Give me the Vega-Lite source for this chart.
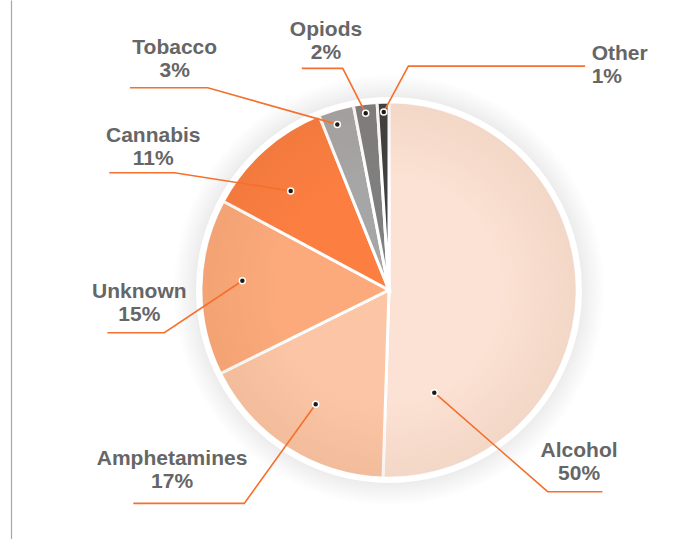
{
  "$schema": "https://vega.github.io/schema/vega-lite/v6.json",
  "width": 667,
  "height": 539,
  "autosize": "none",
  "padding": {"left": 11, "top": 0, "right": 0, "bottom": 0},
  "background": "white",
  "config": {"view": {"stroke": null}},
  "datasets": {
    "slices": [
      {"name": "Alcohol", "value": 50, "order": 1},
      {"name": "Amphetamines", "value": 17, "order": 2},
      {"name": "Unknown", "value": 15, "order": 3},
      {"name": "Cannabis", "value": 11, "order": 4},
      {"name": "Tobacco", "value": 3, "order": 5},
      {"name": "Opiods", "value": 2, "order": 6},
      {"name": "Other", "value": 1, "order": 7}
    ],
    "leaders": [
      {"name": "Alcohol", "step": 0, "x": 0.241, "y": -0.546},
      {"name": "Alcohol", "step": 1, "x": 0.844, "y": -1.073},
      {"name": "Alcohol", "step": 2, "x": 1.135, "y": -1.073},
      {"name": "Amphetamines", "step": 0, "x": -0.39, "y": -0.608},
      {"name": "Amphetamines", "step": 1, "x": -0.77, "y": -1.135},
      {"name": "Amphetamines", "step": 2, "x": -1.36, "y": -1.135},
      {"name": "Unknown", "step": 0, "x": -0.78, "y": 0.049},
      {"name": "Unknown", "step": 1, "x": -1.195, "y": -0.227},
      {"name": "Unknown", "step": 2, "x": -1.498, "y": -0.227},
      {"name": "Cannabis", "step": 0, "x": -0.523, "y": 0.527},
      {"name": "Cannabis", "step": 1, "x": -1.142, "y": 0.624},
      {"name": "Cannabis", "step": 2, "x": -1.488, "y": 0.624},
      {"name": "Tobacco", "step": 0, "x": -0.275, "y": 0.881},
      {"name": "Tobacco", "step": 1, "x": -0.964, "y": 1.076},
      {"name": "Tobacco", "step": 2, "x": -1.378, "y": 1.076},
      {"name": "Opiods", "step": 0, "x": -0.124, "y": 0.94},
      {"name": "Opiods", "step": 1, "x": -0.246, "y": 1.179},
      {"name": "Opiods", "step": 2, "x": -0.464, "y": 1.179},
      {"name": "Other", "step": 0, "x": -0.028, "y": 0.947},
      {"name": "Other", "step": 1, "x": 0.103, "y": 1.191},
      {"name": "Other", "step": 2, "x": 1.043, "y": 1.191}
    ],
    "labels": [
      {"label": "Alcohol\n50%", "x": 1.011, "y": -0.917},
      {"label": "Amphetamines\n17%", "x": -1.154, "y": -0.961},
      {"label": "Unknown\n15%", "x": -1.328, "y": -0.073},
      {"label": "Cannabis\n11%", "x": -1.254, "y": 0.76},
      {"label": "Tobacco\n3%", "x": -1.14, "y": 1.226},
      {"label": "Opiods\n2%", "x": -0.335, "y": 1.321}
    ],
    "labelsLeft": [
      {"label": "Other\n1%", "x": 1.078, "y": 1.194}
    ],
    "one": [{"k": 1}]
  },
  "layer": [
    {
      "data": {"name": "one"},
      "mark": {
        "type": "arc", "theta": 0, "theta2": 6.2832, "outerRadius": 216,
        "fill": {"gradient": "radial", "x1": 0.5, "y1": 0.5, "r1": 0, "x2": 0.5, "y2": 0.5, "r2": 0.5,
          "stops": [{"offset": 0, "color": "#e2e2e2"}, {"offset": 0.85, "color": "#e4e4e4"}, {"offset": 0.93, "color": "#f3f3f3"}, {"offset": 1, "color": "#ffffff"}]}
      },
      "encoding": {
        "x": {"datum": 0, "type": "quantitative", "scale": {"domain": [-2.0106, 1.5372], "nice": false, "zero": false}, "axis": null},
        "y": {"datum": 0, "type": "quantitative", "scale": {"domain": [-1.3245, 1.5426], "nice": false, "zero": false},
          "axis": {"domain": true, "domainColor": "#a6a6a6", "domainWidth": 1.2, "ticks": false, "labels": false, "grid": false, "title": null}}
      }
    },
    {
      "data": {"name": "one"},
      "mark": {"type": "arc", "theta": 0, "theta2": 6.2832, "outerRadius": 193, "fill": "#ffffff"},
      "encoding": {
        "x": {"datum": 0, "type": "quantitative"},
        "y": {"datum": 0, "type": "quantitative"}
      }
    },
    {
      "data": {"name": "slices"},
      "mark": {"type": "arc", "outerRadius": 188, "stroke": "#ffffff", "strokeWidth": 3},
      "encoding": {
        "theta": {"field": "value", "type": "quantitative", "stack": true},
        "order": {"field": "order", "type": "quantitative"},
        "color": {"field": "name", "type": "nominal", "legend": null,
          "scale": {"domain": ["Alcohol", "Amphetamines", "Unknown", "Cannabis", "Tobacco", "Opiods", "Other"],
            "range": ["#fce2d4", "#fcc6a6", "#fcaa7b", "#fc7e41", "#a6a6a6", "#7f7f7f", "#404040"]}},
        "x": {"datum": 0, "type": "quantitative"},
        "y": {"datum": 0, "type": "quantitative"}
      }
    },
    {
      "data": {"name": "one"},
      "mark": {
        "type": "arc", "theta": 0, "theta2": 6.2832, "outerRadius": 187,
        "fill": {"gradient": "radial", "x1": 0.5, "y1": 0.5, "r1": 0, "x2": 0.5, "y2": 0.5, "r2": 0.5,
          "stops": [{"offset": 0, "color": "rgba(120,60,20,0)"}, {"offset": 0.6, "color": "rgba(120,60,20,0)"}, {"offset": 1, "color": "rgba(120,60,20,0.07)"}]}
      },
      "encoding": {
        "x": {"datum": 0, "type": "quantitative"},
        "y": {"datum": 0, "type": "quantitative"}
      }
    },
    {
      "data": {"name": "leaders"},
      "mark": {"type": "line", "color": "#f5702c", "strokeWidth": 1.6},
      "encoding": {
        "x": {"field": "x", "type": "quantitative"},
        "y": {"field": "y", "type": "quantitative"},
        "detail": {"field": "name", "type": "nominal"},
        "order": {"field": "step", "type": "quantitative"}
      }
    },
    {
      "data": {"name": "leaders"},
      "transform": [{"filter": "datum.step == 0"}],
      "mark": {"type": "point", "filled": true, "fill": "#1a1a1a", "stroke": "#ffffff", "strokeWidth": 1.5, "size": 36, "opacity": 1},
      "encoding": {
        "x": {"field": "x", "type": "quantitative"},
        "y": {"field": "y", "type": "quantitative"}
      }
    },
    {
      "data": {"name": "labels"},
      "mark": {"type": "text", "font": "Liberation Sans", "fontWeight": "bold", "fontSize": 21, "color": "#666666", "lineBreak": "\n", "lineHeight": 23.3, "align": "center", "baseline": "middle", "dy": -11.6},
      "encoding": {
        "x": {"field": "x", "type": "quantitative"},
        "y": {"field": "y", "type": "quantitative"},
        "text": {"field": "label", "type": "nominal"}
      }
    },
    {
      "data": {"name": "labelsLeft"},
      "mark": {"type": "text", "font": "Liberation Sans", "fontWeight": "bold", "fontSize": 21, "color": "#666666", "lineBreak": "\n", "lineHeight": 23.3, "align": "left", "baseline": "middle", "dy": -11.6},
      "encoding": {
        "x": {"field": "x", "type": "quantitative"},
        "y": {"field": "y", "type": "quantitative"},
        "text": {"field": "label", "type": "nominal"}
      }
    }
  ]
}
